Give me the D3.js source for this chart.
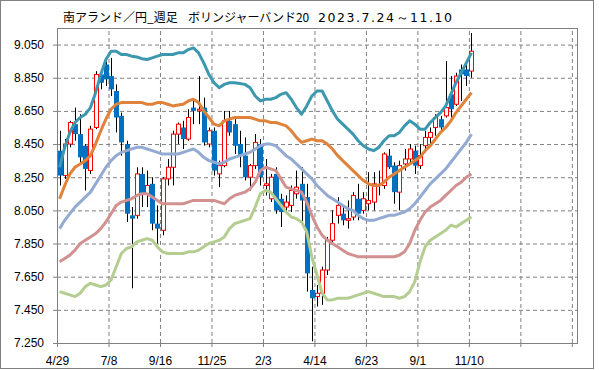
<!DOCTYPE html>
<html>
<head>
<meta charset="utf-8">
<script src="https://cdn.jsdelivr.net/npm/d3@7/dist/d3.min.js"></script>
<style>
  body { margin: 0; background: #fff; }
  svg { display: block; }
  .axis text { font-family: "Liberation Sans", Arial, sans-serif; font-size: 12px; fill: #000; }
  .axis path { display: none; }
  .axis line { stroke: #808080; }
  .grid line { stroke: #808080; stroke-dasharray: 4,3; }
  .grid path { display: none; }
  .title { font-family: "Noto Sans CJK JP", sans-serif; font-size: 12px; fill: #000; }
</style>
</head>
<body>
<svg width="599" height="370"></svg>
<script>
// weekly labels, every 10 weeks from 4/29
var dateLabels = ["4/29", "7/8", "9/16", "11/25", "2/3", "4/14", "6/23", "9/1", "11/10"];
var yTicks = [7.25, 7.45, 7.65, 7.85, 8.05, 8.25, 8.45, 8.65, 8.85, 9.05];

var open  = [8.41,8.26,8.45,8.57,8.51,8.44,8.29,8.55,8.87,8.93, 8.86,8.77,8.62,8.45,8.02,8.02,8.27,8.15,8.21,7.97,
             7.93,8.24,8.31,8.51,8.55,8.48,8.67,8.65,8.67,8.45, 8.53,8.27,8.32,8.59,8.57,8.45,8.38,8.25,8.32,8.45,
             8.20,8.12,8.27,8.12,8.07,8.08,8.15,8.21,8.13,7.57, 7.53,7.55,7.69,7.87,8.02,8.03,7.99,8.01,8.12,8.05,
             8.09,8.10,8.21,8.20,8.38,8.32,8.16,8.33,8.36,8.41, 8.32,8.44,8.49,8.55,8.60,8.62,8.75,8.69,8.90,8.90, 8.89];
var high  = [8.53,8.48,8.59,8.67,8.63,8.45,8.56,8.89,8.90,8.95, 8.97,8.81,8.64,8.47,8.07,8.31,8.31,8.29,8.25,8.08,
             8.25,8.36,8.53,8.58,8.59,8.66,8.72,8.86,8.73,8.55, 8.55,8.35,8.65,8.65,8.60,8.53,8.49,8.33,8.51,8.48,
             8.36,8.27,8.31,8.15,8.14,8.20,8.29,8.31,8.21,7.71, 7.60,7.71,7.89,8.05,8.13,8.08,8.11,8.16,8.21,8.16,
             8.28,8.28,8.29,8.40,8.42,8.34,8.35,8.42,8.45,8.44, 8.45,8.53,8.55,8.63,8.62,8.95,8.86,8.88,8.93,8.94, 9.12];
var low   = [8.20,8.24,8.43,8.47,8.33,8.17,8.27,8.54,8.78,8.80, 8.74,8.52,8.38,7.98,7.58,8.00,8.07,8.07,7.93,7.85,
             7.90,8.20,8.20,8.45,8.42,8.47,8.57,8.57,8.44,8.43, 8.26,8.19,8.31,8.50,8.39,8.31,8.23,8.17,8.30,8.20,
             8.14,8.10,8.03,7.95,8.03,8.04,8.12,7.97,7.56,7.26, 7.47,7.48,7.66,7.85,7.97,7.96,7.94,7.99,7.99,8.03,
             8.05,8.05,8.14,8.18,8.30,8.09,8.05,8.29,8.33,8.27, 8.30,8.40,8.45,8.50,8.53,8.61,8.60,8.68,8.71,8.80, 8.85];
var close = [8.26,8.45,8.58,8.51,8.37,8.30,8.54,8.87,8.82,8.84, 8.78,8.61,8.46,8.03,8.00,8.27,8.15,8.20,7.97,7.94,
             8.24,8.31,8.51,8.57,8.48,8.61,8.65,8.66,8.46,8.53, 8.29,8.32,8.59,8.52,8.44,8.38,8.25,8.32,8.46,8.25,
             8.21,8.25,8.05,8.04,8.10,8.17,8.19,8.11,7.67,7.52, 7.55,7.69,7.87,7.97,8.08,7.99,8.00,8.14,8.03,8.12,
             8.11,8.21,8.20,8.39,8.31,8.16,8.32,8.36,8.42,8.32, 8.38,8.49,8.52,8.61,8.55,8.67,8.66,8.86,8.87,8.86, 9.01];

// Bollinger bands (20)
var bandUp2 = [8.31,8.43,8.52,8.58,8.61,8.63,8.67,8.76,8.87,8.96, 9.01,9.01,8.99,8.99,8.98,8.975,8.965,8.96,8.97,8.98,
               8.99,8.99,8.99,9.00,9.00,9.02,9.03,9.00,8.94,8.87, 8.82,8.79,8.81,8.82,8.82,8.815,8.81,8.79,8.74,8.71,
               8.72,8.72,8.73,8.75,8.76,8.72,8.67,8.63,8.68,8.74, 8.77,8.77,8.71,8.65,8.60,8.57,8.54,8.51,8.47,8.44,
               8.42,8.41,8.43,8.47,8.50,8.50,8.52,8.56,8.59,8.57, 8.54,8.54,8.58,8.61,8.64,8.68,8.75,8.82,8.88,8.94, 9.00];
var bandUp1 = [8.12,8.20,8.27,8.31,8.33,8.35,8.38,8.45,8.53,8.60, 8.66,8.69,8.70,8.70,8.70,8.70,8.70,8.69,8.69,8.70,
               8.70,8.69,8.68,8.685,8.69,8.71,8.72,8.70,8.65,8.61, 8.57,8.56,8.59,8.60,8.61,8.61,8.61,8.61,8.60,8.59,
               8.59,8.58,8.58,8.57,8.56,8.53,8.49,8.46,8.47,8.48, 8.47,8.47,8.45,8.42,8.38,8.35,8.32,8.29,8.26,8.23,
               8.21,8.20,8.20,8.22,8.25,8.27,8.29,8.31,8.33,8.35, 8.37,8.41,8.44,8.48,8.52,8.55,8.59,8.64,8.68,8.72, 8.76];
var bandMid = [7.94,7.99,8.03,8.07,8.10,8.13,8.16,8.21,8.26,8.31, 8.35,8.38,8.40,8.41,8.42,8.43,8.43,8.42,8.41,8.40,
               8.39,8.39,8.39,8.39,8.40,8.41,8.42,8.40,8.37,8.35, 8.34,8.33,8.34,8.36,8.37,8.38,8.39,8.40,8.42,8.44,
               8.45,8.45,8.44,8.41,8.38,8.36,8.33,8.30,8.27,8.24, 8.20,8.17,8.14,8.12,8.10,8.08,8.06,8.05,8.02,8.00,
               7.99,7.99,8.00,8.01,8.02,8.02,8.03,8.04,8.06,8.09, 8.13,8.17,8.21,8.24,8.27,8.30,8.34,8.38,8.42,8.46, 8.51];
var bandDn1 = [7.74,7.76,7.78,7.81,7.85,7.87,7.89,7.91,7.94,7.98, 8.03,8.08,8.10,8.11,8.12,8.14,8.15,8.15,8.13,8.11,
               8.09,8.09,8.09,8.09,8.09,8.10,8.11,8.11,8.11,8.11, 8.11,8.10,8.09,8.12,8.14,8.15,8.16,8.18,8.22,8.29,
               8.31,8.30,8.29,8.24,8.19,8.18,8.17,8.16,8.10,8.02, 7.95,7.90,7.87,7.85,7.83,7.81,7.79,7.78,7.77,7.77,
               7.77,7.77,7.77,7.77,7.77,7.77,7.78,7.80,7.85,7.93, 7.99,8.04,8.07,8.09,8.11,8.14,8.17,8.20,8.22,8.25, 8.27];
var bandDn2 = [7.56,7.55,7.54,7.53,7.55,7.59,7.61,7.60,7.59,7.60, 7.63,7.71,7.79,7.82,7.83,7.86,7.87,7.88,7.87,7.83,
               7.80,7.79,7.79,7.79,7.79,7.80,7.80,7.81,7.83,7.85, 7.86,7.87,7.89,7.94,7.97,7.98,7.99,8.00,8.07,8.15,
               8.17,8.16,8.12,8.08,8.04,8.01,8.00,7.98,7.92,7.77, 7.66,7.55,7.51,7.51,7.52,7.52,7.52,7.53,7.54,7.55,
               7.56,7.55,7.54,7.53,7.53,7.53,7.52,7.53,7.56,7.62, 7.74,7.83,7.87,7.89,7.91,7.93,7.96,7.95,7.97,7.99, 8.01];

var titleParts = ["南アランド／円_週足", "ボリンジャーバンド20", "2023.7.24～11.10"];

var svg = d3.select("svg"),
    margin = {top: 28, right: 22, bottom: 27, left: 57},
    width = +svg.attr("width") - margin.left - margin.right,
    height = +svg.attr("height") - margin.top - margin.bottom;

// outer frame
svg.append("rect")
    .attr("x", 0.5).attr("y", 0.5)
    .attr("width", 593).attr("height", 368)
    .attr("fill", "#fff").attr("stroke", "#808080");

// title in three pieces
var titleX = [63, 188, 318];
svg.selectAll(".title")
    .data(titleParts)
    .enter().append("text")
      .attr("class", "title")
      .attr("x", function(d, i) { return titleX[i]; })
      .attr("y", 22)
      .style("font-family", function(d, i) { return i == 2 ? "'DejaVu Sans', sans-serif" : null; })
      .style("font-size", function(d, i) { return i == 2 ? "12.5px" : null; })
      .attr("textLength", function(d, i) { return i == 2 ? 134 : null; })
      .attr("lengthAdjust", "spacing")
      .text(function(d) { return d; });

var g = svg.append("g").attr("transform", "translate(" + margin.left + "," + margin.top + ")");

var x = d3.scaleLinear().domain([0, 101]).range([0, width]),
    y = d3.scaleLinear().domain([7.25, 9.15]).range([height, 0]);

var xTicks = d3.range(0, 101, 10);

// grid
g.append("g")
    .attr("class", "grid")
    .call(d3.axisLeft(y).tickValues(yTicks.slice(1)).tickSize(-width).tickFormat(""));

g.append("g")
    .attr("class", "grid")
    .attr("transform", "translate(0," + height + ")")
    .call(d3.axisBottom(x).tickValues(xTicks.slice(1)).tickSize(-height).tickFormat(""));

// axes
g.append("g")
    .attr("class", "axis axis--y")
    .call(d3.axisLeft(y).tickValues(yTicks).tickSize(4).tickPadding(9).tickFormat(d3.format(".3f")));

g.append("g")
    .attr("class", "axis axis--x")
    .attr("transform", "translate(0," + height + ")")
    .call(d3.axisBottom(x).tickValues(xTicks).tickSize(4).tickPadding(9)
        .tickFormat(function(d, i) { return dateLabels[i] || ""; }));

g.append("rect")
    .attr("x", 0.5).attr("y", 0.5)
    .attr("width", width).attr("height", height)
    .attr("fill", "none").attr("stroke", "#808080");

// candles
var candles = open.map(function(o, i) {
    return {i: i, o: o, h: high[i], l: low[i], c: close[i]};
});

function cx(d) { return Math.round(x(d.i + 0.5)); }

var candle = g.selectAll(".candle")
    .data(candles)
    .enter().append("g")
      .attr("class", "candle");

candle.append("line")
    .attr("x1", function(d) { return cx(d) + 0.5; })
    .attr("x2", function(d) { return cx(d) + 0.5; })
    .attr("y1", function(d) { return y(d.h); })
    .attr("y2", function(d) { return y(d.l); })
    .attr("stroke", "#000");

candle.append("rect")
    .attr("x", function(d) { return d.c >= d.o ? cx(d) - 1.5 : cx(d) - 2; })
    .attr("y", function(d) { return y(Math.max(d.o, d.c)); })
    .attr("width", function(d) { return d.c >= d.o ? 4 : 5; })
    .attr("height", function(d) { return Math.max(1.5, Math.abs(y(d.o) - y(d.c))); })
    .attr("fill", function(d) { return d.c >= d.o ? "#fff" : "#0070C0"; })
    .attr("stroke", function(d) { return d.c >= d.o ? "#FF0000" : "none"; });

// bands
var line = d3.line()
    .x(function(d, i) { return x(i + 0.5); })
    .y(function(d) { return y(d); });

var bands = [
    {id: "dn2", values: bandDn2, color: "#B4CD91"},
    {id: "dn1", values: bandDn1, color: "#D29191"},
    {id: "mid", values: bandMid, color: "#93ABD3"},
    {id: "up1", values: bandUp1, color: "#E0823A"},
    {id: "up2", values: bandUp2, color: "#3C98AF"}
];

g.selectAll(".band")
    .data(bands)
    .enter().append("path")
      .attr("class", "band")
      .attr("d", function(d) { return line(d.values); })
      .attr("fill", "none")
      .style("stroke", function(d) { return d.color; })
      .style("stroke-width", 3)
      .style("stroke-linejoin", "round");
</script>
</body>
</html>
